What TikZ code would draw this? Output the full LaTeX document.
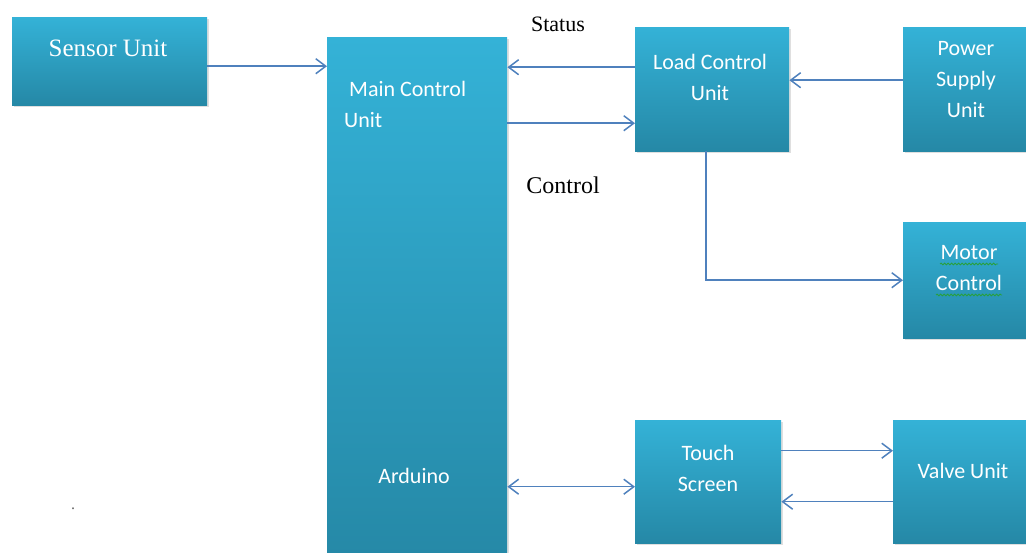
\documentclass[tikz,border=0pt]{standalone}
\usepackage{fontspec}
\setmainfont{Liberation Serif}
\newfontfamily\boxfont{Carlito}
\usepackage{tikz}
\usetikzlibrary{positioning, arrows.meta, shadows, decorations.pathmorphing}
\definecolor{boxtop}{RGB}{52,178,215}
\definecolor{boxbot}{RGB}{37,136,166}
\definecolor{linkblue}{HTML}{4F81BD}
\definecolor{spellgreen}{RGB}{40,160,60}

\tikzset{
  unit/.style={rectangle, draw=none, anchor=north west, top color=boxtop, bottom color=boxbot,
    drop shadow={opacity=0.25, shadow xshift=1.5pt, shadow yshift=-2pt}},
  utxt/.style={font=\boxfont\fontsize{22}{31}\selectfont, text=white, align=center, inner sep=0pt, anchor=base},
  sig/.style={font=\fontsize{22}{26}\selectfont, inner sep=0pt, anchor=base},
  link/.style={draw=linkblue, line width=1.5pt, -{Straight Barb[length=10pt,width=15pt]}},
  squig/.style={draw=spellgreen, line width=0.8pt, decorate, decoration={snake, amplitude=0.9pt, segment length=3.5pt}}
}

\begin{document}
\begin{tikzpicture}[x=1pt, y=-1pt]
\useasboundingbox (0,0) rectangle (1026,552);
\clip (0,0) rectangle (1026,552);

% blocks
\node[unit, minimum width=195pt, minimum height=88pt]  (sensor) at (12,17)  {};
\node[unit, minimum width=180pt, minimum height=530pt] (main)   at (327,37) {};
\node[unit, minimum width=154pt, minimum height=124pt] (load)   at (635,27) {};
\node[unit, minimum width=126pt, minimum height=124pt] (power)  at (903,27) {};
\node[unit, minimum width=126pt, minimum height=116pt] (motor)  at (903,222) {};
\node[unit, minimum width=146pt, minimum height=123pt] (touch)  at (635,420) {};
\node[unit, minimum width=136pt, minimum height=123pt] (valve)  at (893,420) {};

% block texts (base = last line)
\node[utxt, font=\fontsize{25}{30}\selectfont] (sensorTxt) at (108,56) {Sensor Unit};
\node[utxt, align=left, anchor=base west] (mainTxt) at (344,127) {\hspace{5pt}Main Control\\Unit};
\node[utxt] (arduinoTxt) at (414,483) {Arduino};
\node[utxt] (loadTxt)  at (710,100) {Load Control\\Unit};
\node[utxt] (powerTxt) at (966,117) {Power\\Supply\\Unit};
\node[utxt] (motorTxt) at (969,290) {Motor\\Control};
\node[utxt] (touchTxt) at (708,491) {Touch\\Screen};
\node[utxt] (valveTxt) at (963,478) {Valve Unit};

% spelling marks
\draw[squig] ([xshift=-29pt, yshift=26pt]motorTxt.base) -- ([xshift=29pt, yshift=26pt]motorTxt.base);
\draw[squig] ([xshift=-33pt, yshift=-5pt]motorTxt.base) -- ([xshift=33pt, yshift=-5pt]motorTxt.base);

% signal labels
\node[sig] (statusLbl)  at (558,31)  {Status};
\node[sig, font=\fontsize{24}{28}\selectfont] (controlLbl) at (563,193) {Control};
\node[inner sep=0pt, anchor=base, text=black!60, font=\fontsize{16}{18}\selectfont] (dot) at (73,509) {.};

% connections
\coordinate (sA) at ([yshift=-5pt]sensor.east);
\draw[link] (sA) -- (sA -| main.west);
\coordinate (lA) at ([yshift=22pt]load.west);
\draw[link] (lA) -- (lA -| main.east);
\coordinate (lB) at ([yshift=-34pt]load.west);
\draw[link] (lB -| main.east) -- (lB);
\coordinate (pA) at ([yshift=9pt]power.west);
\draw[link] (pA) -- (pA -| load.east);
\draw[link] ([xshift=-6pt]load.south) |- (motor.west);
\coordinate (tA) at ([yshift=-5pt]touch.west);
\draw[link, {Straight Barb[length=10pt,width=15pt]}-{Straight Barb[length=10pt,width=15pt]}] (tA -| main.east) -- (tA);
\coordinate (tB) at ([yshift=31pt]touch.east);
\draw[link] (tB) -- (tB -| valve.west);
\coordinate (vA) at ([yshift=-20pt]valve.west);
\draw[link] (vA) -- (vA -| touch.east);
\end{tikzpicture}
\end{document}
